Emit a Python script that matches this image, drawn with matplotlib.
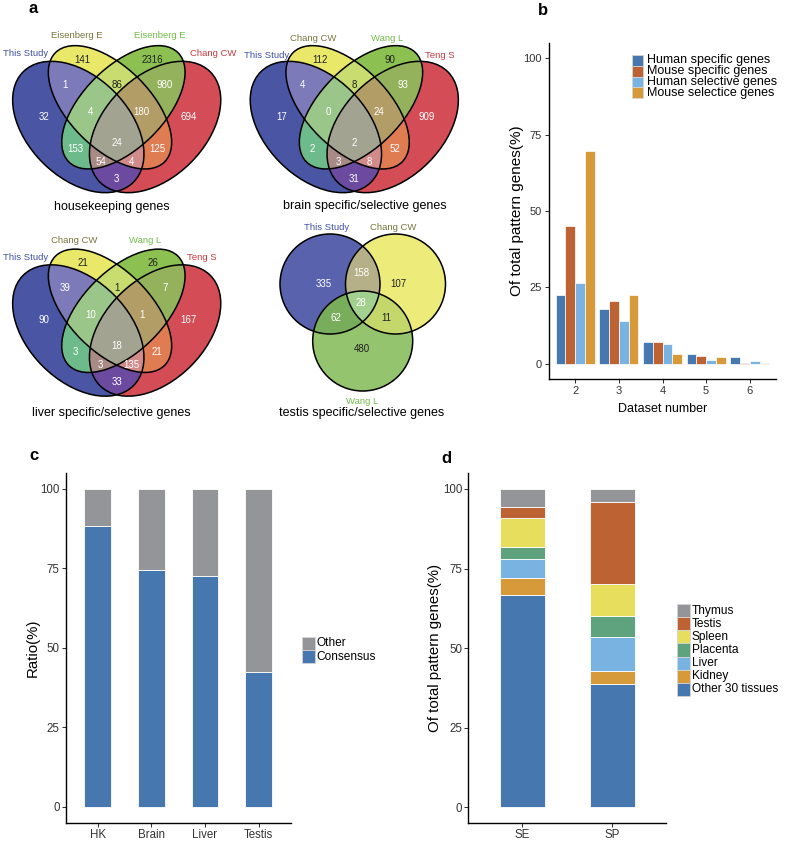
import numpy as np
import matplotlib
matplotlib.use('Agg')
import matplotlib.pyplot as plt
from matplotlib.patches import Ellipse, Circle, Rectangle
from matplotlib.colors import to_rgba

plt.rcParams['font.family'] = ['Liberation Sans', 'DejaVu Sans']

# ---------------- data ----------------
# panel a : Venn region counts
quad_regions = ['B', 'Y', 'G', 'R', 'BY', 'YG', 'GR', 'BYG', 'YGR', 'BG', 'BYGR', 'YR', 'BGR', 'BYR', 'BR']
hk_sets = ['This Study', 'Eisenberg E', 'Eisenberg E', 'Chang CW']
hk_counts = [32, 141, 2316, 694, 1, 86, 980, 4, 180, 153, 24, 125, 54, 4, 3]
brain_sets = ['This Study', 'Chang CW', 'Wang L', 'Teng S']
brain_counts = [17, 112, 90, 909, 4, 8, 93, 0, 24, 2, 2, 52, 3, 8, 31]
liver_sets = ['This Study', 'Chang CW', 'Wang L', 'Teng S']
liver_counts = [90, 21, 26, 167, 39, 1, 7, 10, 1, 3, 18, 21, 3, 135, 33]
testis_sets = ['This Study', 'Chang CW', 'Wang L']
tri_regions = ['B', 'Y', 'G', 'BY', 'BG', 'YG', 'BYG']
testis_counts = [335, 107, 480, 158, 62, 11, 28]

# panel b
dataset_number = [2, 3, 4, 5, 6]
human_specific = [22.6, 17.8, 7.2, 3.3, 2.2]
mouse_specific = [45.2, 20.5, 7.2, 2.5, 0.1]
human_selective = [26.4, 13.9, 6.3, 1.3, 0.8]
mouse_selective = [69.8, 22.6, 3.3, 2.2, 0.1]
b_labels = ['Human specific genes', 'Mouse specific genes', 'Human selective genes', 'Mouse selectice genes']

# panel c
c_categories = ['HK', 'Brain', 'Liver', 'Testis']
c_consensus = [88.3, 74.5, 72.7, 42.5]
c_other = [11.7, 25.5, 27.3, 57.5]

# panel d
d_categories = ['SE', 'SP']
d_other30 = [66.8, 38.7]
d_kidney = [5.2, 4.1]
d_liver = [6.1, 10.8]
d_placenta = [3.6, 6.6]
d_spleen = [9.2, 10.0]
d_testis = [3.5, 25.8]
d_thymus = [5.6, 4.0]

# ---------------- style ----------------
C_BLUE = '#4677af'
C_RUST = '#bd6232'
C_LBLUE = '#79b3e2'
C_ORANGE = '#d69a3a'
C_GRAY = '#939598'
C_GREEN = '#5ea37d'
C_YELLOW = '#e7de5d'

W, H = 787, 843
fig = plt.figure(figsize=(W / 100, H / 100), dpi=100)


def rect(l, t, r, b):
    return [l / W, 1 - b / H, (r - l) / W, (b - t) / H]


ov = fig.add_axes([0, 0, 1, 1], zorder=5)
ov.axis('off')

# ----- Venn geometry (layout, pixel units relative to diagram centre) -----
QUAD_SHAPES = [(-38.4, -15.5, 78.0, 50.4, 45), (-6.7, -35.2, 77.2, 40.6, 45),
               (6.7, -35.2, 77.2, 40.6, -45), (38.4, -15.5, 78.0, 50.4, -45)]
QUAD_POS = {'B': (-73, -26), 'Y': (-34, -82.5), 'G': (36, -82.5), 'R': (72, -26),
            'BY': (-51.7, -58), 'YG': (0, -58), 'GR': (48.3, -58),
            'BYG': (-25.7, -30.5), 'YGR': (25, -30.5),
            'BG': (-41.7, 6), 'BYGR': (0, 0), 'YR': (40.6, 6),
            'BGR': (-16, 19.5), 'BYR': (14.6, 19.5), 'BR': (0, 36)}
QUAD_COLORS = {'B': '#4a55a4', 'Y': '#ebe96a', 'G': '#8cc152', 'R': '#d54c55',
               'BY': '#7c7ab8', 'YG': '#c9dc6f', 'GR': '#93b25b', 'BG': '#6dba8b',
               'YR': '#e07c52', 'BR': '#6b4aa0', 'BYG': '#9bc68a', 'YGR': '#b49e66',
               'BYR': '#d28b8b', 'BGR': '#a78b84', 'BYGR': '#a2a591'}
TRI_COLORS = {'B': '#5a62ad', 'Y': '#eeec7a', 'G': '#95c46d', 'BY': '#b6b08a',
              'BG': '#78ad5c', 'YG': '#c4d86c', 'BYG': '#a2d08e'}
SET_COLORS = ['#3f51a6', '#77773f', '#72be4a', '#c83a3f']
DARK_TEXT = {'Y', 'G', 'YG'}

res = 2
AW, AH = 520, 430
xs = (np.arange(AW * res) + 0.5) / res
ys = (np.arange(AH * res) + 0.5) / res
X, Y = np.meshgrid(xs, ys)
img = np.zeros(X.shape + (4,))


def in_ellipse(cx, cy, a, b, ang):
    t = np.deg2rad(ang)
    dx, dy = X - cx, Y - cy
    u = dx * np.cos(t) + dy * np.sin(t)
    v = -dx * np.sin(t) + dy * np.cos(t)
    return (u / a) ** 2 + (v / b) ** 2 <= 1


def paint(masks, letters, colors):
    code = np.zeros(X.shape, dtype=int)
    for i, m in enumerate(masks):
        code += m.astype(int) << i
    for c in range(1, 2 ** len(masks)):
        key = ''.join(l for i, l in enumerate(letters) if c >> i & 1)
        if key in colors:
            img[code == c] = to_rgba(colors[key])


def quad_venn(cx, cy, counts, sets, set_pos, title, title_pos):
    masks = []
    for (dx, dy, a, b, ang) in QUAD_SHAPES:
        masks.append(in_ellipse(cx + dx, cy + dy, a, b, ang))
        ov.add_patch(Ellipse((cx + dx, cy + dy), 2 * a, 2 * b, angle=ang, fill=False,
                             ec='black', lw=1.1, zorder=3))
    paint(masks, 'BYGR', QUAD_COLORS)
    for reg, n in zip(quad_regions, counts):
        px, py = QUAD_POS[reg]
        ov.text(cx + px, cy + py, str(n), ha='center', va='center', fontsize=7,
                color='#222222' if reg in DARK_TEXT else 'white', zorder=4)
    for name, (sx, sy), col in zip(sets, set_pos, SET_COLORS):
        ov.text(sx, sy, name, ha='center', va='center', fontsize=6.8, color=col, zorder=4)
    ov.text(title_pos[0], title_pos[1], title, ha='center', va='center', fontsize=9, zorder=4)


quad_venn(116.7, 142.5, hk_counts, hk_sets,
          [(26, 53.3), (76.7, 35.7), (159.3, 35.7), (212.7, 53.3)],
          'housekeeping genes', (111.7, 206.7))
quad_venn(354.3, 142.5, brain_counts, brain_sets,
          [(266.2, 56), (313.3, 38.3), (386.7, 38.3), (440, 56)],
          'brain specific/selective genes', (365, 206))
quad_venn(116.7, 346, liver_counts, liver_sets,
          [(26, 257.7), (74, 240.7), (145, 240.7), (202.3, 257.7)],
          'liver specific/selective genes', (111.7, 412.7))

# testis three-circle Venn
TRI_SHAPES = [(330, 284, 50), (395.5, 284, 50), (362.7, 341, 50)]
TRI_POS = {'B': (323.3, 284), 'Y': (398.3, 284), 'G': (361.7, 349.3), 'BY': (361.7, 273.3),
           'BG': (335.7, 318.3), 'YG': (386.7, 317.7), 'BYG': (361, 303.3)}
tmasks = []
for (cx, cy, r) in TRI_SHAPES:
    tmasks.append(in_ellipse(cx, cy, r, r, 0))
    ov.add_patch(Circle((cx, cy), r, fill=False, ec='black', lw=1.1, zorder=3))
paint(tmasks, 'BYG', TRI_COLORS)
for reg, n in zip(tri_regions, testis_counts):
    px, py = TRI_POS[reg]
    ov.text(px, py, str(n), ha='center', va='center', fontsize=7,
            color='#222222' if reg in DARK_TEXT else 'white', zorder=4)
for name, (sx, sy), col in zip(testis_sets, [(326.7, 227.3), (393.3, 227.3), (361.7, 401.7)],
                               [SET_COLORS[0], SET_COLORS[1], SET_COLORS[2]]):
    ov.text(sx, sy, name, ha='center', va='center', fontsize=6.8, color=col, zorder=4)
ov.text(361.7, 412.7, 'testis specific/selective genes', ha='center', va='center', fontsize=9, zorder=4)

ov.imshow(img, extent=(0, AW, AH, 0), interpolation='antialiased', aspect='auto', zorder=1)
ov.set_xlim(0, W)
ov.set_ylim(H, 0)


def style(ax, fs, pad):
    for s in ['top', 'right']:
        ax.spines[s].set_visible(False)
    for s in ['left', 'bottom']:
        ax.spines[s].set_linewidth(1.0)
    ax.tick_params(length=2.75, width=0.75, color='#333333', labelsize=fs,
                   labelcolor='#333333', pad=pad)
    ax.set_yticks([0, 25, 50, 75, 100])
    ax.set_ylim(-5, 105)


def manual_legend(x, y0, row_h, key_w, gap, labels, colors, fs):
    for i, (lab, col) in enumerate(zip(labels, colors)):
        y = y0 + i * row_h
        ov.add_patch(Rectangle((x, y), key_w, row_h, facecolor=col, edgecolor='#d5d5d5',
                               lw=0.6, zorder=4))
        ov.text(x + key_w + gap, y + row_h / 2, lab, va='center', ha='left', fontsize=fs, zorder=4)


# ---------------- panel b ----------------
axb = fig.add_axes(rect(549, 43, 776, 379))
w = 0.225
b_series = [human_specific, mouse_specific, human_selective, mouse_selective]
b_colors = [C_BLUE, C_RUST, C_LBLUE, C_ORANGE]
for k, (vals, col) in enumerate(zip(b_series, b_colors)):
    axb.bar(np.array(dataset_number) + (k - 1.5) * w, vals, width=w, color=col,
            edgecolor='white', linewidth=0.5)
style(axb, 8, 2.5)
axb.set_xticks(dataset_number)
axb.set_xlim(1.4, 6.6)
axb.set_xlabel('Dataset number', fontsize=9, va='center')
axb.xaxis.set_label_coords(0.5, (379 - 409) / 336)
axb.set_ylabel('Of total pattern genes(%)', fontsize=11, va='center')
axb.yaxis.set_label_coords((517 - 549) / 227, 0.5)
manual_legend(631.7, 55, 10.8, 11.6, 3.4, b_labels, b_colors, 9)

# ---------------- panel c ----------------
axc = fig.add_axes(rect(65.7, 473, 290.7, 822.7))
xc = np.arange(1, len(c_categories) + 1)
axc.bar(xc, c_consensus, width=0.5, color=C_BLUE, edgecolor='white', linewidth=0.6)
axc.bar(xc, c_other, width=0.5, bottom=c_consensus, color=C_GRAY, edgecolor='white', linewidth=0.6)
style(axc, 8.3, 1.5)
axc.set_xticks(xc)
axc.set_xticklabels(c_categories)
axc.set_xlim(0.4, len(c_categories) + 0.6)
axc.set_ylabel('Ratio(%)', fontsize=10.8, va='center')
axc.yaxis.set_label_coords((33 - 65.7) / 225, 0.5)
manual_legend(301.7, 636.7, 13.3, 13.3, 1.7, ['Other', 'Consensus'], [C_GRAY, C_BLUE], 8.6)

# ---------------- panel d ----------------
axd = fig.add_axes(rect(468.3, 473, 666, 823.3))
xd = np.arange(1, len(d_categories) + 1)
d_stack = [d_other30, d_kidney, d_liver, d_placenta, d_spleen, d_testis, d_thymus]
d_colors = [C_BLUE, C_ORANGE, C_LBLUE, C_GREEN, C_YELLOW, C_RUST, C_GRAY]
d_names = ['Other 30 tissues', 'Kidney', 'Liver', 'Placenta', 'Spleen', 'Testis', 'Thymus']
bottom = np.zeros(len(d_categories))
for vals, col in zip(d_stack, d_colors):
    axd.bar(xd, vals, width=0.5, bottom=bottom, color=col, edgecolor='white', linewidth=0.6)
    bottom = bottom + np.array(vals)
style(axd, 8.3, 1.5)
axd.set_xticks(xd)
axd.set_xticklabels(d_categories)
axd.set_xlim(0.4, len(d_categories) + 0.6)
axd.set_ylabel('Of total pattern genes(%)', fontsize=10.8, va='center')
axd.yaxis.set_label_coords((435 - 468.3) / 197.7, 0.5)
manual_legend(676.7, 604, 13.14, 13.3, 2.0, d_names[::-1], d_colors[::-1], 8.6)

# panel letters
for letter, (lx, ly) in zip('abcd', [(33.3, 13.3), (543.3, 15), (33.7, 460), (446.7, 463.3)]):
    ov.text(lx, ly, letter, fontsize=12, fontweight='bold', ha='center', va='baseline', zorder=6)

fig.savefig('out.png', dpi=100)
